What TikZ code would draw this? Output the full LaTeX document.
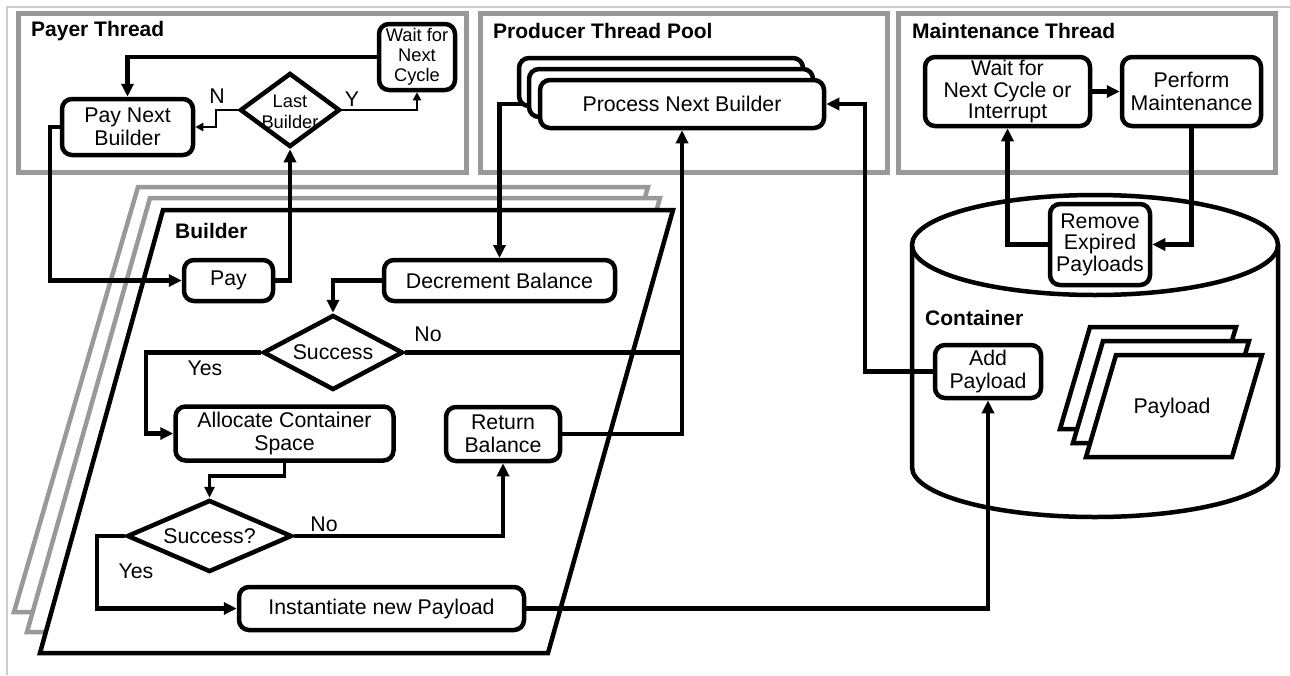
\documentclass[tikz,border=0pt]{standalone}
\usepackage{fontspec}
\setmainfont{Liberation Sans}
\usetikzlibrary{arrows.meta,shapes.geometric,calc}
\tikzset{
 panel/.style={draw=black!40, line width=5pt, fill=white},
 ttl/.style={font=\fontsize{21}{24}\selectfont\bfseries, anchor=west, inner sep=0pt},
 box/.style={draw, line width=4.5pt, rounded corners=10pt, fill=white, align=center, inner sep=0pt, font=\fontsize{21.3}{23.5}\selectfont},
 tbox/.style={box, font=\fontsize{21.3}{21.5}\selectfont},
 sbox/.style={box, font=\fontsize{18.3}{20}\selectfont},
 dia/.style={diamond, draw, line width=4.5pt, fill=white, inner sep=0pt},
 lbl/.style={font=\fontsize{21.3}{23.5}\selectfont, inner sep=0pt, align=center},
 slbl/.style={font=\fontsize{18.3}{20.5}\selectfont, inner sep=0pt, align=center},
 con/.style={line width=4.5pt},
 arr/.style={con, -{Triangle[length=13pt,width=12pt]}},
 marr/.style={line width=3.5pt, -{Triangle[length=11pt,width=10pt]}},
 tarr/.style={line width=2.5pt, -{Triangle[length=8pt,width=8pt]}},
 gpar/.style={draw=black!40, line width=4.5pt, fill=white},
 bpar/.style={draw=black, line width=4.5pt, fill=white},
}
\begin{document}
\begin{tikzpicture}[x=1pt,y=-1pt]
\useasboundingbox (0,0) rectangle (1290,675);
\draw[black!20, line width=1.5pt] (7,675) -- (7,7) -- (1290,7);

% panels
\draw[panel] (18,13) rectangle (466,172);
\draw[panel] (480,13) rectangle (887,172);
\draw[panel] (898,13) rectangle (1275,172);
\node[ttl] (tpayer) at (31,31) {Payer Thread};
\node[ttl] (tprod) at (493,31) {Producer Thread Pool};
\node[ttl] (tmaint) at (912,31) {Maintenance Thread};

% builder parallelograms
\draw[gpar] (138,187) -- (648,187) -- (524,612) -- (14,612) -- cycle;
\draw[gpar] (150,198) -- (660,198) -- (535,632) -- (27,632) -- cycle;
\draw[bpar] (163,210) -- (673,210) -- (548,653) -- (40,653) -- cycle;
\node[ttl] (tbuilder) at (175,231) {Builder};

% container cylinder
\draw[line width=4.5pt, fill=white] (912,245) -- (912,467)
  arc[start angle=180, end angle=0, x radius=183, y radius=50] -- (1278,245);
\draw[line width=4.5pt, fill=white] (1095,245) ellipse [x radius=183, y radius=50];
\node[ttl] (tcont) at (925,318) {Container};

% payload stack
\draw[bpar] (1090,327) -- (1236,327) -- (1206,429) -- (1060,429) -- cycle;
\draw[bpar] (1103,341) -- (1249,341) -- (1219,443) -- (1073,443) -- cycle;
\draw[bpar] (1116,355) -- (1262,355) -- (1232,457) -- (1086,457) -- cycle;
\node[lbl] (payload) at (1172,408) {Payload};

% Payer thread nodes
\node[sbox, minimum width=76, minimum height=66] (wait) at (417,57) {Wait for\\Next\\Cycle};
\node[box, minimum width=131, minimum height=56] (pnb) at (127.5,127) {Pay Next\\Builder};
\node[dia, minimum width=100, minimum height=74] (lb) at (290,110) {};
\node[slbl] (lbt) at (290,112) {Last\\Builder};

% Producer connector behind stack
\draw[arr] (538,104) -| (499.5,258);

% Producer nodes
\node[box, minimum width=284, minimum height=48] (proc3) at (661,82) {};
\node[box, minimum width=284, minimum height=48] (proc2) at (671,93) {};
\node[box, minimum width=284, minimum height=48] (proc) at (682,104) {Process Next Builder};

% Maintenance nodes
\node[tbox, minimum width=165, minimum height=69] (mw) at (1007.5,91.5) {Wait for\\Next Cycle or\\Interrupt};
\node[box, minimum width=139, minimum height=69] (mp) at (1191.5,91.5) {Perform\\Maintenance};

% Builder nodes
\node[box, minimum width=89, minimum height=41] (pay) at (228.5,280.5) {Pay};
\node[box, minimum width=231, minimum height=41] (dec) at (499.5,280.5) {Decrement Balance};
\node[dia, minimum width=140, minimum height=75] (s1) at (333,352.5) {};
\node[lbl] (s1t) at (333,352.5) {Success};
\node[box, minimum width=218, minimum height=54] (alloc) at (284.5,433.5) {Allocate Container\\Space};
\node[box, minimum width=114, minimum height=54] (rb) at (503,434) {Return\\Balance};
\node[dia, minimum width=165, minimum height=72] (s2) at (209.5,536) {};
\node[lbl] (s2t) at (209.5,536) {Success?};
\node[box, minimum width=285, minimum height=43] (inst) at (381.5,608.5) {Instantiate new Payload};

% Container nodes
\node[tbox, minimum width=100, minimum height=81] (rem) at (1100,244.5) {Remove\\Expired\\Payloads};
\node[box, minimum width=106, minimum height=53] (ap) at (988,371.5) {Add\\Payload};

% Payer connectors
\draw[arr] (wait.west) -| (pnb.north);
\draw[tarr] (lb.west) -- ++(-22,0) |- (pnb.east);
\draw[tarr] (lb.east) -| (wait.south);
\node[lbl] (nlab) at (217,96) {N};
\node[lbl] (ylab) at (352,99) {Y};
\draw[arr] (pnb.west) -- ++(-10,0) |- (pay.west);
\draw[arr] (pay.east) -| (lb.south);

% Builder connectors
\draw[arr] (dec.west) -| (s1.north);
\draw[arr] (s1.east) -| (proc.south);
\node[lbl] (no1) at (428,334) {No};
\draw[arr] (s1.west) -- ++(-115,0) |- (alloc.west);
\node[lbl] (yes1) at (205,368) {Yes};
\draw[con] (rb.east) -| (s1.east -| proc.south);
\draw[marr] (alloc.south) -- ++(0,13) -| (s2.north);
\draw[arr] (s2.east) -| (rb.south);
\node[lbl] (no2) at (324,524) {No};
\draw[arr] (s2.west) -- ++(-28,0) |- (inst.west);
\node[lbl] (yes2) at (136,571) {Yes};
\draw[arr] (inst.east) -| (ap.south);

% Container / producer connectors
\draw[arr] (ap.west) -- ++(-68,0) |- (proc.east);

% Maintenance connectors
\draw[arr] (mw.east) -- (mp.west);
\draw[arr] (rem.west) -| (mw.south);
\draw[arr] (mp.south) |- (rem.east);
\end{tikzpicture}
\end{document}
